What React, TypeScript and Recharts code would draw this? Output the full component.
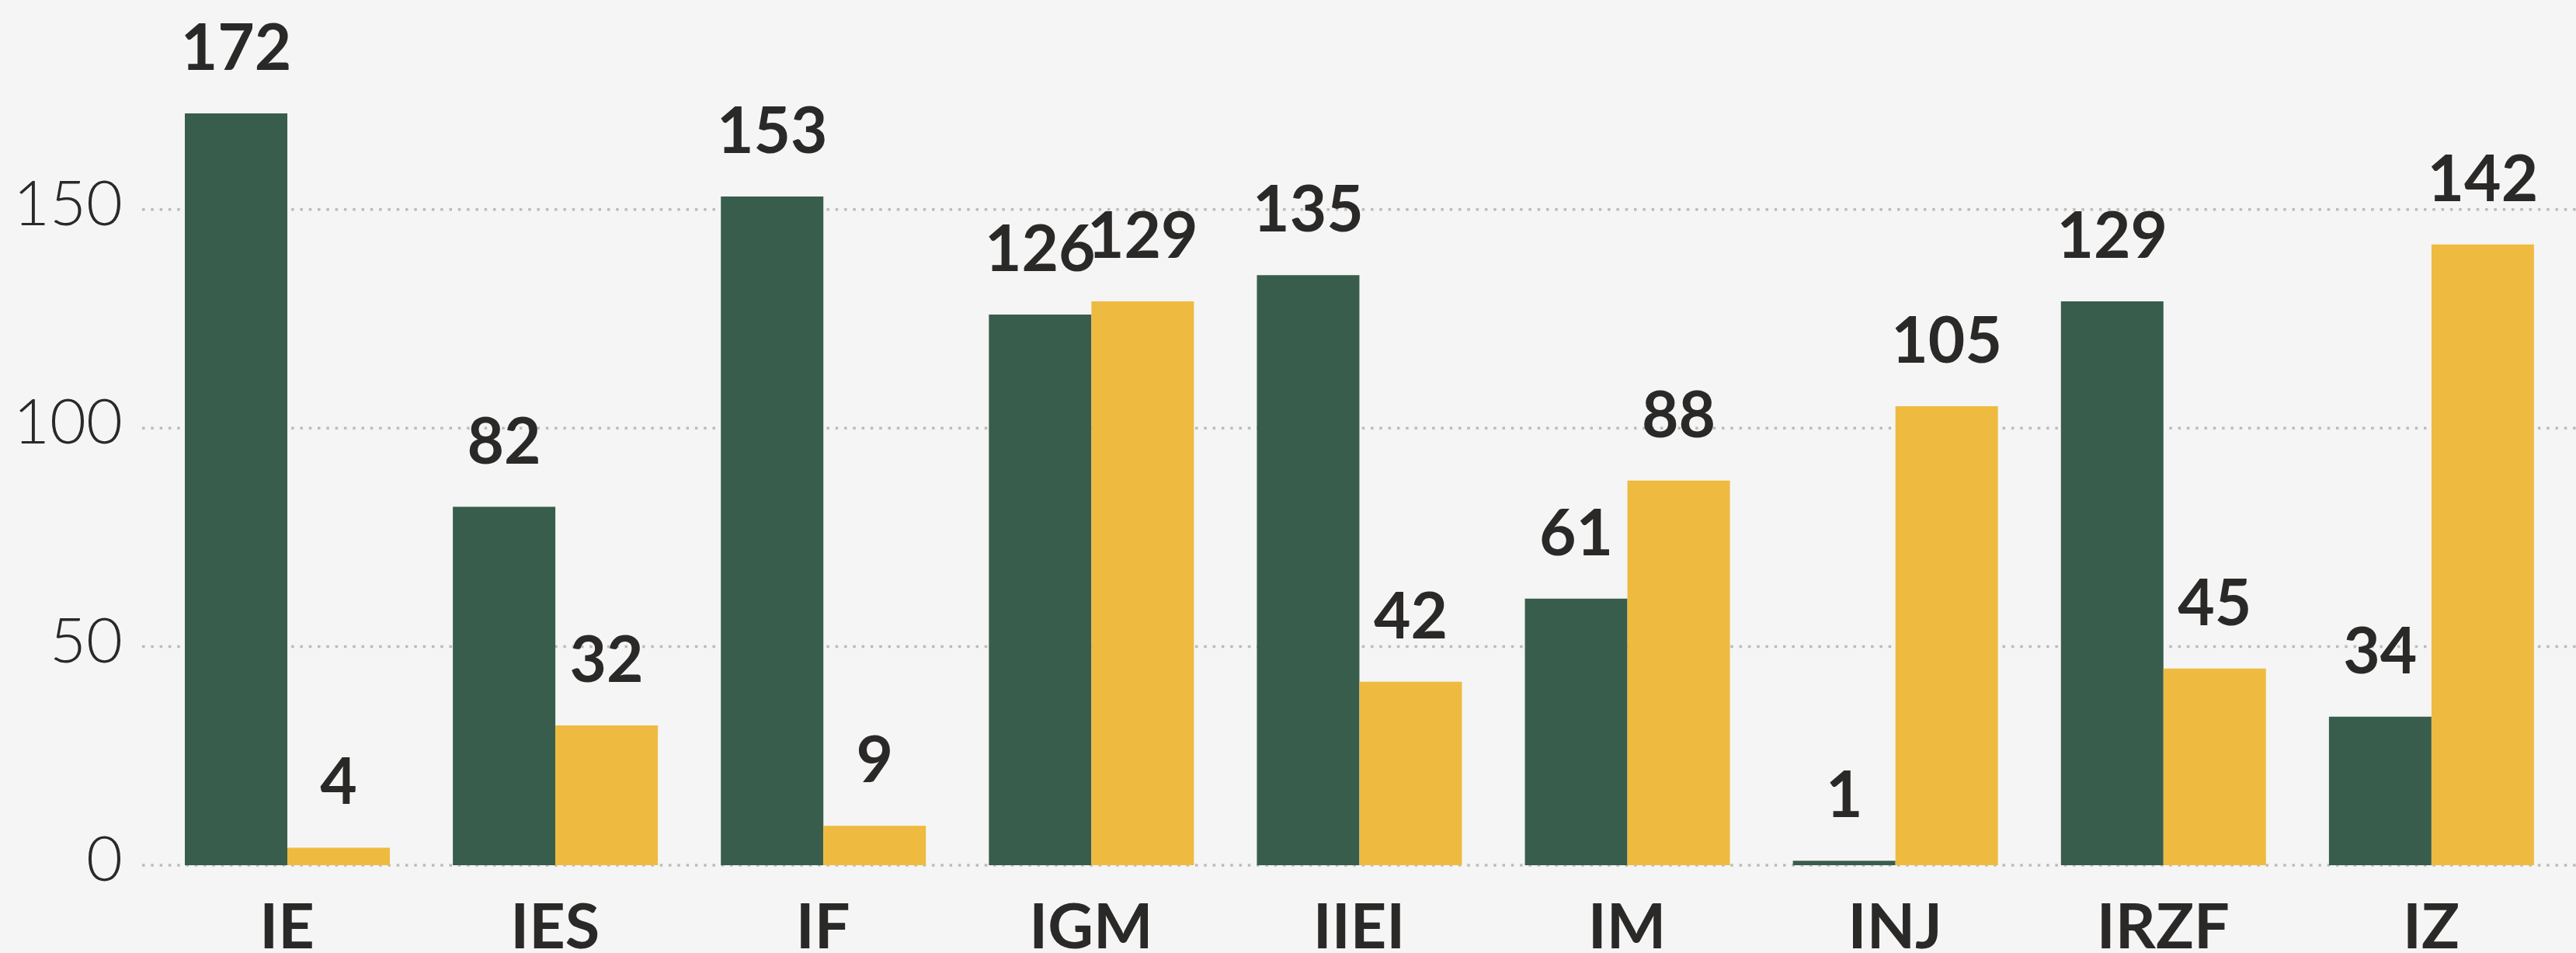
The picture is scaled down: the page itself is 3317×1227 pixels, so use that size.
import React from 'react';
import { BarChart, Bar, XAxis, YAxis, CartesianGrid, LabelList } from 'recharts';

const categories = ['IE', 'IES', 'IF', 'IGM', 'IIEI', 'IM', 'INJ', 'IRZF', 'IZ'];
const greenValues = [172, 82, 153, 126, 135, 61, 1, 129, 34];
const yellowValues = [4, 32, 9, 129, 42, 88, 105, 45, 142];
const yTicks = [0, 50, 100, 150];
const yMax = 180;

const data = categories.map((c, i) => ({ name: c, green: greenValues[i], yellow: yellowValues[i] }));

const TEXT = '#2a2927';

const YTick = (props: any) => {
  const { x, y, payload } = props;
  return (
    <text x={x} y={y + 20} textAnchor="end" fontFamily="Lato" fontWeight={300} fontSize={81} fill={TEXT}>
      {payload.value}
    </text>
  );
};

const XTick = (props: any) => {
  const { x, y, payload } = props;
  return (
    <text x={x} y={y + 107} textAnchor="middle" fontFamily="Lato" fontWeight={700} fontSize={81} fill={TEXT}>
      {payload.value}
    </text>
  );
};

const labelStyle = { fontFamily: 'Lato', fontWeight: 700, fontSize: 82, fill: TEXT } as any;

const gridRows = (args: any) => {
  const s = args?.yAxis?.scale;
  try {
    if (typeof s === 'function') {
      const r = yTicks.map((t) => s(t));
      if (r.every((v) => typeof v === 'number' && !isNaN(v))) return r;
    }
    if (s && typeof s.map === 'function') {
      const r = yTicks.map((t) => s.map(t));
      if (r.every((v: any) => typeof v === 'number' && !isNaN(v))) return r;
    }
  } catch (e) {
    // fall through
  }
  const off = args?.offset;
  if (!off) return [];
  return yTicks.map((t) => off.top + off.height * (1 - t / yMax));
};

export default function App() {
  return (
    <div style={{ position: 'fixed', left: 0, top: 0, width: 3317, height: 1227, background: '#f5f5f5' }}>
      <BarChart
        width={3317}
        height={1227}
        data={data}
        margin={{ top: 101, right: 0, bottom: 0, left: 0 }}
        barSize={132}
        barGap={0}
      >
        <CartesianGrid
          vertical={false}
          stroke="#bcbcbc"
          strokeWidth={3.5}
          strokeDasharray="3.5 7.8"
          horizontalCoordinatesGenerator={gridRows}
        />
        <XAxis
          dataKey="name"
          axisLine={false}
          tickLine={false}
          tickSize={0}
          tickMargin={0}
          height={113}
          padding={{ left: 14, right: 14 }}
          tick={<XTick />}
          interval={0}
        />
        <YAxis
          domain={[0, yMax]}
          ticks={yTicks}
          axisLine={false}
          tickLine={false}
          tickSize={0}
          tickMargin={25}
          width={183}
          tick={<YTick />}
          interval={0}
        />
        <Bar dataKey="green" fill="#395d4c" isAnimationActive={false}>
          <LabelList dataKey="green" position="top" offset={56} style={labelStyle} />
        </Bar>
        <Bar dataKey="yellow" fill="#eebb40" isAnimationActive={false}>
          <LabelList dataKey="yellow" position="top" offset={56} style={labelStyle} />
        </Bar>
      </BarChart>
    </div>
  );
}
